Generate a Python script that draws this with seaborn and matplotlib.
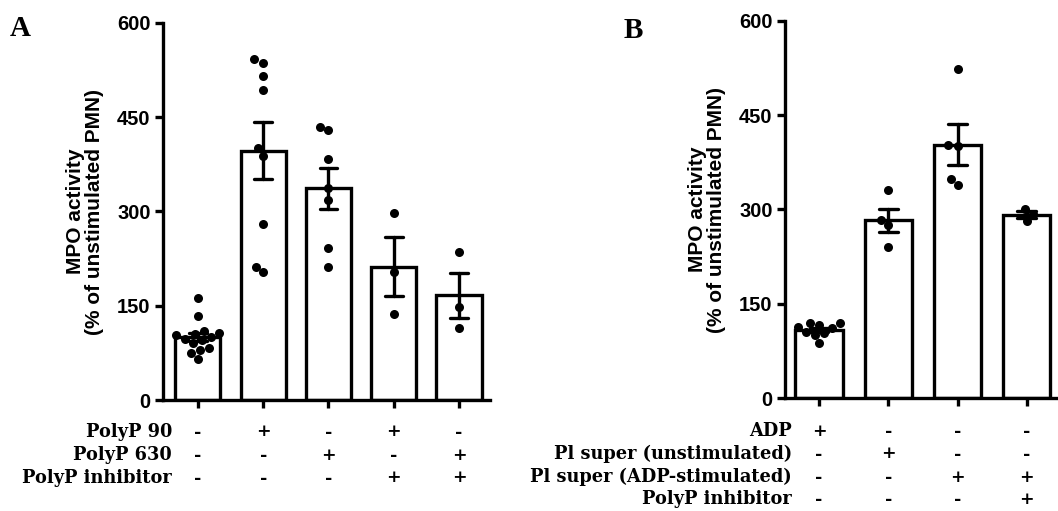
import numpy as np
import pandas as pd
import matplotlib
matplotlib.use("Agg")
import matplotlib.pyplot as plt
import matplotlib.transforms as mtransforms
import seaborn as sns

# ---------------- data ----------------
# Panel A: individual measurements (% of unstimulated PMN)
a_groups = ["ctrl", "PolyP90", "PolyP630", "PolyP90+inh", "PolyP630+inh"]
a_ctrl = [163, 134, 110, 107, 105, 103, 100, 97, 95, 90, 83, 80, 75, 66]
a_p90 = [542, 537, 515, 493, 401, 389, 280, 212, 203]
a_p630 = [435, 430, 383, 338, 319, 242, 211]
a_p90_inh = [297, 203, 137]
a_p630_inh = [236, 148, 115]

a_row_labels = ["PolyP 90", "PolyP 630", "PolyP inhibitor"]
a_row_polyp90 = ["-", "+", "-", "+", "-"]
a_row_polyp630 = ["-", "-", "+", "-", "+"]
a_row_inhib = ["-", "-", "-", "+", "+"]

# Panel B
b_groups = ["ADP", "Pl unstim", "Pl ADP", "Pl ADP+inh"]
b_adp = [120, 120, 116, 113, 111, 105, 103, 101, 88]
b_pl_unstim = [331, 284, 275, 240]
b_pl_adp = [523, 402, 401, 349, 339]
b_pl_adp_inh = [300, 293, 282]

b_row_labels = ["ADP", "Pl super (unstimulated)", "Pl super (ADP-stimulated)", "PolyP inhibitor"]
b_row_adp = ["+", "-", "-", "-"]
b_row_unstim = ["-", "+", "-", "-"]
b_row_adpstim = ["-", "-", "+", "+"]
b_row_inhib = ["-", "-", "-", "+"]

yticks = [0, 150, 300, 450, 600]
ylabel = "MPO activity\n(% of unstimulated PMN)"


def long_df(groups, values):
    rows = []
    for g, vals in zip(groups, values):
        for v in vals:
            rows.append((g, v))
    return pd.DataFrame(rows, columns=["group", "value"])


dfA = long_df(a_groups, [a_ctrl, a_p90, a_p630, a_p90_inh, a_p630_inh])
dfB = long_df(b_groups, [b_adp, b_pl_unstim, b_pl_adp, b_pl_adp_inh])

# ---------------- figure ----------------
sns.set_style("ticks")
plt.rcParams["font.family"] = ["Liberation Sans", "DejaVu Sans"]
for k in ["text.color", "axes.labelcolor", "xtick.color", "ytick.color", "axes.edgecolor"]:
    plt.rcParams[k] = "black"

W, H = 1058, 511
fig = plt.figure(figsize=(W / 100, H / 100), dpi=100)

axA = fig.add_axes([163 / W, 1 - 400 / H, (490 - 163) / W, (400 - 23) / H])
axB = fig.add_axes([785 / W, 1 - 398 / H, (1058 - 785) / W, (398 - 21) / H])

LW = 2.4


def draw_panel(ax, df, groups, xlim, width):
    sns.barplot(data=df, x="group", y="value", order=groups, estimator="mean",
                errorbar=("se", 1), color="white", edgecolor="black",
                linewidth=LW, width=width, capsize=0.27,
                err_kws={"color": "black", "linewidth": LW}, ax=ax, zorder=2)
    sns.swarmplot(data=df, x="group", y="value", order=groups, color="black",
                  size=6.5, ax=ax, zorder=4)
    ax.set_ylim(0, 600)
    ax.set_xlim(*xlim)
    ax.set_yticks(yticks)
    ax.set_yticklabels([str(t) for t in yticks], fontsize=14.5, fontweight="bold")
    ax.set_xticklabels([])
    ax.set_xlabel("")
    ax.set_ylabel(ylabel, fontsize=15, fontweight="bold", linespacing=1.05, labelpad=9)
    for s in ["top", "right"]:
        ax.spines[s].set_visible(False)
    for s in ["left", "bottom"]:
        ax.spines[s].set_linewidth(LW)
        ax.spines[s].set_color("black")
    ax.tick_params(axis="both", width=LW, length=6, color="black")
    ax.tick_params(axis="y", pad=3)


draw_panel(axA, dfA, a_groups, (-0.536, 4.475), 0.69)
draw_panel(axB, dfB, b_groups, (-0.49, 3.45), 0.68)

# panel letters
fig.text(10 / W, 1 - 28 / H, "A", fontsize=21, fontweight="bold",
         family=["Liberation Serif", "DejaVu Serif"], va="center", ha="left")
fig.text(624 / W, 1 - 30 / H, "B", fontsize=21, fontweight="bold",
         family=["Liberation Serif", "DejaVu Serif"], va="center", ha="left")

# condition tables
serif = ["DejaVu Serif"]


def table(ax, label_x, row_labels, rows, ys):
    trans = mtransforms.blended_transform_factory(ax.transData, fig.transFigure)
    for lab, signs, y in zip(row_labels, rows, ys):
        fig.text(label_x / W, 1 - y / H, lab, ha="right", va="center",
                 fontsize=12.8, fontweight="bold", family=serif)
        for i, s in enumerate(signs):
            ax.text(i, 1 - y / H, s, transform=trans, ha="center", va="center",
                    fontsize=12.5, fontweight="bold", family=serif, clip_on=False)


table(axA, 172, a_row_labels, [a_row_polyp90, a_row_polyp630, a_row_inhib],
      [432, 455, 478])
table(axB, 792, b_row_labels, [b_row_adp, b_row_unstim, b_row_adpstim, b_row_inhib],
      [431, 454, 477, 499])

fig.savefig("out.png", dpi=100)
